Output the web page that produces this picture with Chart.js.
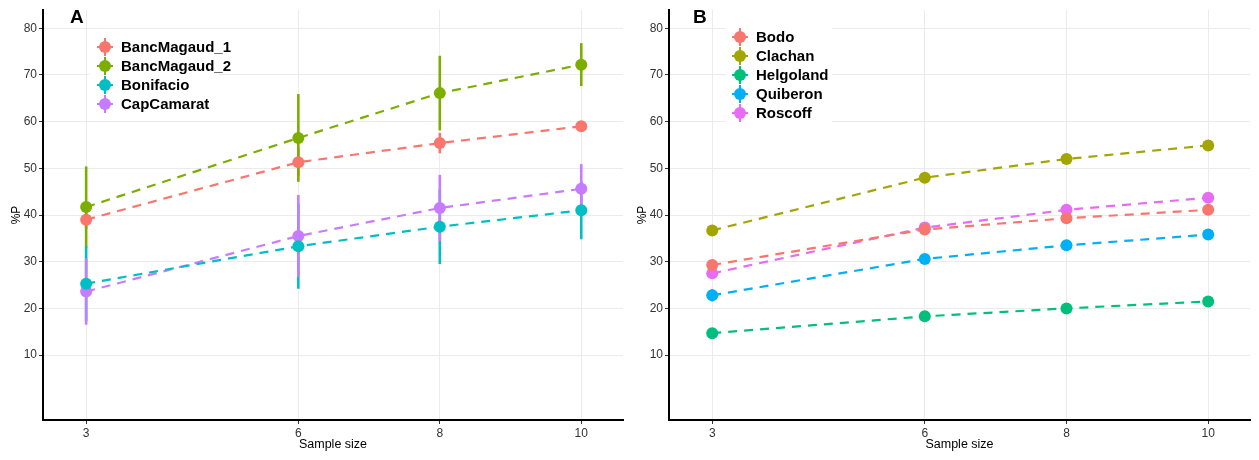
<!DOCTYPE html>
<html lang="en">
<head>
<meta charset="UTF-8" />
<title>%P vs sample size</title>
<script src="https://cdn.jsdelivr.net/npm/chart.js"></script>
<style>
  body { margin: 0; background: #fff; }
  .panel { position: absolute; top: 0; }
</style>
</head>
<body>
<div class="panel" style="left:0"><canvas id="chartA" width="629" height="460"></canvas></div>
<div class="panel" style="left:629px"><canvas id="chartB" width="630" height="460"></canvas></div>

<script>
  // shared axis data
  const sampleSizes = [3, 6, 8, 10];
  const yTicks = [10, 20, 30, 40, 50, 60, 70, 80];

  // panel A
  const namesA = ['BancMagaud_1', 'BancMagaud_2', 'Bonifacio', 'CapCamarat'];
  const colorsA = ['#F8766D', '#7CAE00', '#00BFC4', '#C77CFF'];
  const bancMagaud1 = [39.0, 51.3, 55.4, 59.0];
  const bancMagaud1Err = [2.0, 3.0, 2.2, 1.0];
  const bancMagaud2 = [41.7, 56.5, 66.1, 72.2];
  const bancMagaud2Err = [8.7, 9.4, 8.0, 4.6];
  const bonifacio = [25.3, 33.3, 37.5, 41.0];
  const bonifacioErr = [8.0, 9.1, 8.0, 6.2];
  const capCamarat = [23.6, 35.5, 41.5, 45.6];
  const capCamaratErr = [7.1, 8.8, 7.1, 5.3];

  // panel B
  const namesB = ['Bodo', 'Clachan', 'Helgoland', 'Quiberon', 'Roscoff'];
  const colorsB = ['#F8766D', '#A3A500', '#00BF7D', '#00B0F6', '#E76BF3'];
  const bodo = [29.3, 36.9, 39.3, 41.1];
  const bodoErr = [0.8, 0.6, 0.5, 0.5];
  const clachan = [36.7, 48.0, 52.0, 54.9];
  const clachanErr = [0.8, 0.6, 0.5, 0.5];
  const helgoland = [14.7, 18.3, 20.0, 21.5];
  const helgolandErr = [0.8, 0.6, 0.5, 0.5];
  const quiberon = [22.8, 30.6, 33.5, 35.8];
  const quiberonErr = [1.3, 0.7, 0.5, 0.5];
  const roscoff = [27.5, 37.3, 41.1, 43.7];
  const roscoffErr = [0.8, 0.6, 0.5, 0.5];

  const FONT = "'Liberation Sans', Arial, sans-serif";

  function makeDatasets(names, colors, values, errs) {
    return names.map((name, i) => ({
      label: name,
      data: sampleSizes.map((x, j) => ({ x: x, y: values[i][j] })),
      errors: errs[i],
      borderColor: colors[i],
      backgroundColor: colors[i],
      borderWidth: 2.2,
      borderDash: [9, 7],
      pointRadius: 6,
      pointHoverRadius: 6,
      pointBorderWidth: 0,
      tension: 0
    }));
  }

  // vertical error bars drawn with the chart's own scales
  const errorBars = {
    id: 'errorBars',
    beforeDatasetsDraw(chart) {
      const ctx = chart.ctx;
      const xs = chart.scales.x, ys = chart.scales.y;
      chart.data.datasets.forEach(ds => {
        ctx.save();
        ctx.strokeStyle = ds.borderColor;
        ctx.lineWidth = 2.6;
        ds.data.forEach((p, j) => {
          const e = ds.errors[j];
          const px = xs.getPixelForValue(p.x);
          ctx.beginPath();
          ctx.moveTo(px, ys.getPixelForValue(p.y - e));
          ctx.lineTo(px, ys.getPixelForValue(p.y + e));
          ctx.stroke();
        });
        ctx.restore();
      });
    }
  };

  // inset legend + panel letter
  const insetLegend = {
    id: 'insetLegend',
    afterDraw(chart, args, opts) {
      const ctx = chart.ctx;
      const ds = chart.data.datasets;
      ctx.save();
      ctx.fillStyle = '#fff';
      ctx.fillRect(opts.box[0], opts.box[1], opts.box[2], opts.box[3]);
      ctx.font = 'bold 15px ' + FONT;
      ctx.textBaseline = 'middle';
      ds.forEach((d, i) => {
        const y = opts.y + i * opts.step;
        ctx.strokeStyle = d.borderColor;
        ctx.lineWidth = 2;
        ctx.beginPath();
        ctx.moveTo(opts.x - 8, y); ctx.lineTo(opts.x + 8, y);
        ctx.moveTo(opts.x, y - 9); ctx.lineTo(opts.x, y + 9);
        ctx.stroke();
        ctx.fillStyle = d.borderColor;
        ctx.beginPath();
        ctx.arc(opts.x, y, 6, 0, Math.PI * 2);
        ctx.fill();
        ctx.fillStyle = '#000';
        ctx.fillText(d.label, opts.x + 16, y + 1);
      });
      ctx.font = 'bold 19px ' + FONT;
      ctx.fillText(opts.letter, opts.letterX, 18);
      ctx.restore();
    }
  };

  function makeChart(id, datasets, leftWidth, rightPad, titlePad, legendOpts) {
    new Chart(document.getElementById(id), {
      type: 'line',
      data: { datasets: datasets },
      options: {
        responsive: false,
        animation: false,
        layout: { padding: { top: 10, right: rightPad, bottom: 0, left: 0 } },
        plugins: {
          legend: { display: false },
          tooltip: { enabled: false },
          insetLegend: legendOpts
        },
        scales: {
          x: {
            type: 'linear',
            min: 2.39, max: 10.59,
            afterBuildTicks: s => { s.ticks = sampleSizes.map(v => ({ value: v })); },
            afterFit: s => { s.height = 40; },
            grid: { color: '#ebebeb', lineWidth: 1, tickLength: 4, tickColor: '#333' },
            border: { display: true, color: '#000', width: 2 },
            ticks: { color: '#333', font: { family: FONT, size: 12 }, padding: 2, maxRotation: 0 },
            title: { display: true, text: 'Sample size', color: '#000', font: { family: FONT, size: 12.5 }, padding: { top: 0, bottom: 8 } }
          },
          y: {
            min: -3.9, max: 83.9,
            afterBuildTicks: s => { s.ticks = yTicks.map(v => ({ value: v })); },
            afterFit: s => { s.width = leftWidth; },
            grid: { color: '#ebebeb', lineWidth: 1, tickLength: 4, tickColor: '#333' },
            border: { display: true, color: '#000', width: 2 },
            ticks: { color: '#333', font: { family: FONT, size: 12 }, padding: 2 },
            title: { display: true, text: '%P', color: '#000', font: { family: FONT, size: 12 }, padding: { top: titlePad, bottom: 0 } }
          }
        }
      },
      plugins: [errorBars, insetLegend]
    });
  }

  makeChart('chartA',
    makeDatasets(namesA, colorsA,
      [bancMagaud1, bancMagaud2, bonifacio, capCamarat],
      [bancMagaud1Err, bancMagaud2Err, bonifacioErr, capCamaratErr]),
    43, 4, 9,
    { box: [89, 33, 130, 82], x: 105, y: 47, step: 19, letter: 'A', letterX: 70 });

  makeChart('chartB',
    makeDatasets(namesB, colorsB,
      [bodo, clachan, helgoland, quiberon, roscoff],
      [bodoErr, clachanErr, helgolandErr, quiberonErr, roscoffErr]),
    40, 9, 6,
    { box: [97, 25, 106, 100], x: 111, y: 37, step: 19, letter: 'B', letterX: 64 });
</script>
</body>
</html>
